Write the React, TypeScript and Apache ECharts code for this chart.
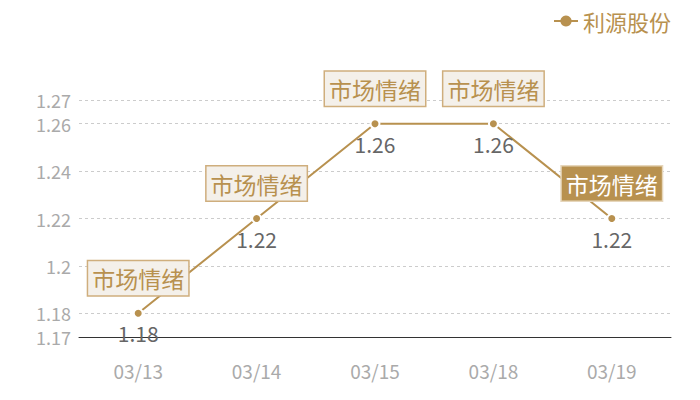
import React, { useEffect, useRef } from "react";
import * as echarts from "echarts";

const categories = ["03/13", "03/14", "03/15", "03/18", "03/19"];
const values = [1.18, 1.22, 1.26, 1.26, 1.22];
const seriesName = "利源股份";
const tagText = "市场情绪";
const highlightIndex = 4;

const GOLD = "#b8914f";
const FONT = "'Noto Sans CJK SC', 'Noto Sans', sans-serif";

export default function App() {
  const ref = useRef<HTMLDivElement>(null);
  useEffect(() => {
    document.body.style.margin = "0";
    if (!ref.current) return;
    const chart = echarts.init(ref.current, undefined, { renderer: "svg" });
    const markData = categories.map((c, i) => {
      const hi = i === highlightIndex;
      return {
        coord: [c, values[i]],
        value: tagText,
        label: {
          show: true,
          formatter: tagText,
          position: "inside",
          offset: [0, -35],
          fontSize: 23,
          lineHeight: 28,
          fontFamily: FONT,
          color: hi ? "#ffffff" : GOLD,
          backgroundColor: hi ? GOLD : "#f4f0ea",
          borderColor: hi ? "#e6d6bb" : "#cfae7d",
          borderWidth: 1.5,
          padding: [3, 4, 3, 4],
        },
      };
    });
    chart.setOption({
      animation: false,
      textStyle: { fontFamily: FONT },
      legend: {
        data: [seriesName],
        right: 24,
        top: 5,
        itemWidth: 24,
        itemHeight: 14,
        itemGap: 6,
        itemStyle: { borderWidth: 0 },
        textStyle: { color: GOLD, fontSize: 22, fontFamily: FONT },
      },
      grid: { left: 79, right: 29, top: 100, bottom: 63 },
      xAxis: {
        type: "category",
        data: categories,
        axisLine: { lineStyle: { color: "#333", width: 1 } },
        axisTick: { show: false },
        axisLabel: { color: "#aaaaaa", fontSize: 19, margin: 24, fontFamily: FONT },
      },
      yAxis: {
        type: "value",
        min: 1.17,
        max: 1.27,
        axisLine: { show: false },
        axisTick: { show: false },
        axisLabel: {
          color: "#aaaaaa",
          fontSize: 18,
          lineHeight: 18,
          margin: 8,
          fontFamily: FONT,
        },
        splitLine: { lineStyle: { color: "#cccccc", type: [3, 3] } },
      },
      series: [
        {
          name: seriesName,
          type: "line",
          data: values,
          symbol: "circle",
          symbolSize: 9,
          itemStyle: { color: GOLD, borderColor: "#ffffff", borderWidth: 2 },
          lineStyle: { color: GOLD, width: 2 },
          label: {
            show: true,
            position: "bottom",
            distance: 4,
            color: "#666666",
            fontSize: 21,
            fontFamily: FONT,
          },
          markPoint: {
            symbol: "circle",
            symbolSize: 1,
            itemStyle: { color: "rgba(0,0,0,0)" },
            data: markData,
          },
        },
      ],
    });
    return () => chart.dispose();
  }, []);
  return <div ref={ref} style={{ width: 700, height: 400 }} />;
}
